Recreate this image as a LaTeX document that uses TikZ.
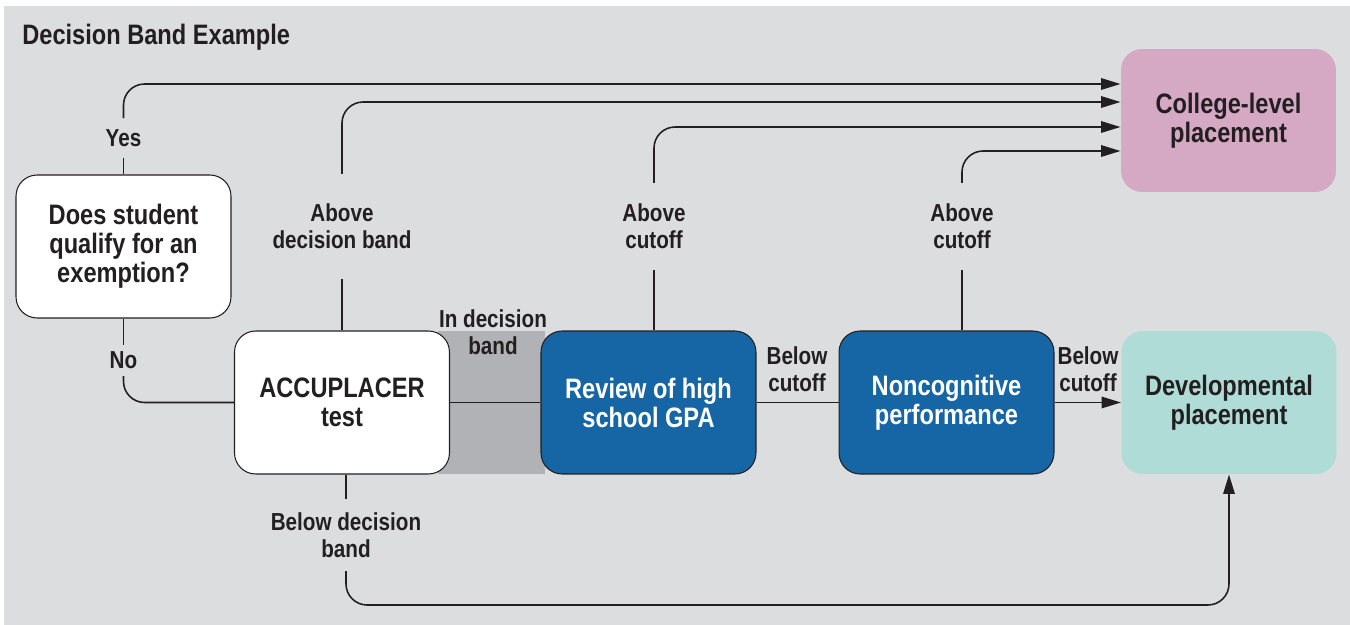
\documentclass[tikz,border=0pt]{standalone}
\usepackage{fontspec}
\setmainfont{Liberation Sans}[FakeStretch=0.84]
\usetikzlibrary{arrows.meta,calc}

\definecolor{bggray}{HTML}{DCDDDF}
\definecolor{bandgray}{HTML}{B1B2B6}
\definecolor{gpablue}{HTML}{1665A5}
\definecolor{collegepink}{HTML}{D5A8C4}
\definecolor{develteal}{HTML}{B0DCD8}
\definecolor{inkdark}{HTML}{231F20}

\newcommand\boxfont{\bfseries\fontsize{16}{16.5}\selectfont}
\newcommand\lblfont{\bfseries\fontsize{14}{15.3}\selectfont}

\tikzset{
  box/.style={draw=inkdark, line width=0.6pt, fill=white, rounded corners=12pt,
    minimum width=4.3cm, minimum height=2.86cm, align=center,
    text=inkdark, font=\boxfont},
  bluebox/.style={box, fill=gpablue, text=white},
  placebox/.style={box, draw=none},
  lbl/.style={align=center, text=inkdark, font=\lblfont, inner xsep=0pt},
  wire/.style={draw=inkdark, line width=0.9pt, rounded corners=12pt},
  arr/.style={wire, -{Triangle[length=11pt,width=6.5pt]}},
}

\begin{document}
\begin{tikzpicture}[x=0.02cm, y=-0.02cm]

\useasboundingbox (0,0) rectangle (1350,625);
\fill[bggray] (4,6) rectangle (1350,625);

%decision band
\fill[bandgray] (438,331) rectangle (545,474);

\node[lbl, anchor=west, font=\boxfont] (title) at (22,37) {Decision Band Example};

%boxes
\node[box] (exempt) at (123.5,246.5) {Does student\\qualify for an\\exemption?};
\node[box] (accu) at (342,402.5) {ACCUPLACER\\test};
\node[bluebox] (gpa) at (648.5,402.5) {Review of high\\school GPA};
\node[bluebox] (noncog) at (946.5,402.5) {Noncognitive\\performance};
\node[placebox, fill=develteal] (devel) at (1229,402.5) {Developmental\\placement};
\node[placebox, fill=collegepink] (college) at (1228.5,120.5) {College-level\\placement};

%labels
\node[lbl, inner ysep=6.2pt] (yes) at (123.5,138) {Yes};
\node[lbl, inner ysep=3.8pt] (no) at (123.5,360.5) {No};
\node[lbl, inner ysep=17pt] (abovedb) at (342,226.5) {Above\\decision band};
\node[lbl, inner ysep=11.9pt] (abovegpa) at (654,226.5) {Above\\cutoff};
\node[lbl, inner ysep=11.9pt] (abovenc) at (962,226.5) {Above\\cutoff};
\node[lbl, inner ysep=7.6pt] (belowdb) at (346,535) {Below decision\\band};
\node[lbl, inner sep=0pt] (indb) at (493,332) {In decision\\band};
\node[lbl, inner sep=0pt] (belowgpa) at (797,369) {Below\\cutoff};
\node[lbl, inner sep=0pt] (belownc) at (1088,369) {Below\\cutoff};

\coordinate (c1) at ($(college.west)+(0,-36.5)$);
\coordinate (c2) at ($(college.west)+(0,-18.5)$);
\coordinate (c3) at ($(college.west)+(0,6.5)$);
\coordinate (c4) at ($(college.west)+(0,30.5)$);
\coordinate (floor) at (0,605);

%to college-level
\draw[wire] (exempt.north) -- (yes.south);
\draw[arr] (yes.north) |- (c1);
\draw[wire] (accu.north) -- (abovedb.south);
\draw[arr] (abovedb.north) |- (c2);
\draw[wire] (abovegpa.south |- gpa.north) -- (abovegpa.south);
\draw[arr] (abovegpa.north) |- (c3);
\draw[wire] (abovenc.south |- noncog.north) -- (abovenc.south);
\draw[arr] (abovenc.north) |- (c4);

%main row
\draw[wire] (exempt.south) -- (no.north);
\draw[wire] (no.south) |- (accu.west);
\draw[wire] (accu.east) -- (gpa.west);
\draw[wire] (gpa.east) -- (noncog.west);
\draw[arr] (noncog.east) -- (devel.west);

%below decision band
\draw[wire] (belowdb.north |- accu.south) -- (belowdb.north);
\draw[arr] (belowdb.south) |- (floor -| devel.south) -- (devel.south);

\end{tikzpicture}
\end{document}
